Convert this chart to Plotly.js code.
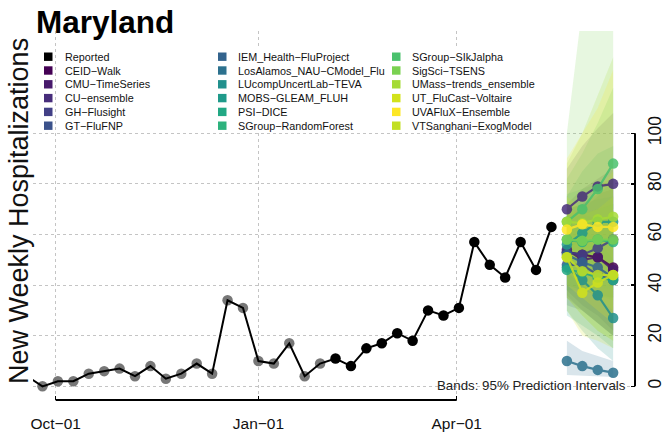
<!DOCTYPE html>
<html>
<head>
<meta charset="utf-8">
<script src="https://cdn.plot.ly/plotly-3.0.1.min.js"></script>
<style>html,body{margin:0;padding:0;background:#fff;}#chart{width:663px;height:435px;}</style>
</head>
<body>
<div id="chart"></div>
<script>
// ---------------- data ----------------
const reportedDates = ['2021-09-18','2021-09-25','2021-10-02','2021-10-09','2021-10-16','2021-10-23','2021-10-30',
  '2021-11-06','2021-11-13','2021-11-20','2021-11-27','2021-12-04','2021-12-11','2021-12-18','2021-12-25',
  '2022-01-01','2022-01-08','2022-01-15','2022-01-22','2022-01-29','2022-02-05','2022-02-12','2022-02-19',
  '2022-02-26','2022-03-05','2022-03-12','2022-03-19','2022-03-26','2022-04-02','2022-04-09','2022-04-16',
  '2022-04-23','2022-04-30','2022-05-07','2022-05-14'];
const reportedValues = [4,0,2,2,5,6,7,4,8,3,5,9,5,34,31,10,9,17,4,9,11,8,15,17,21,18,30,28,31,57,48,43,57,46,63];
const olderCount = 20; // points up to 2022-01-29 drawn in grey

const forecastDates = ['2022-05-21','2022-05-28','2022-06-04','2022-06-11'];
const modelNames = ['CEID−Walk','CMU−TimeSeries','CU−ensemble','GH−Flusight','GT−FluFNP',
  'IEM_Health−FluProject','LosAlamos_NAU−CModel_Flu','LUcompUncertLab−TEVA','MOBS−GLEAM_FLUH','PSI−DICE',
  'SGroup−RandomForest','SGroup−SIkJalpha','SigSci−TSENS','UMass−trends_ensemble','UT_FluCast−Voltaire',
  'UVAFluX−Ensemble','VTSanghani−ExogModel'];
const modelColors = ['#440154','#481a6c','#472d7b','#424086','#3b528b','#33638d','#2c718e','#21908d',
  '#1f9a8a','#22a884','#2db27d','#4ac16d','#7ad151','#a5db36','#d2e21b','#fde725','#c2df23'];
const medianValues = [
  [53,52,51,47],   // CEID
  [54,50,51,46],   // CMU
  [70,75,79,80],   // CU
  [53,52,54.6,58], // GH
  [48,48,44,42],   // GT
  [52,49,47,43],   // IEM
  [10,8,6.5,5.4],  // LosAlamos
  [47,42,36,27],   // LUcomp
  [56,60.5,65,65], // MOBS
  [46,45,43,42],   // PSI
  [58,57,58,57],   // SGroup-RF
  [65,70,78,88],   // SIkJalpha
  [58,57.5,58,58], // SigSci
  [65,64.5,66,67], // UMass
  [51,37,41,44],   // UT
  [62,64,63,63],   // UVA
  [51,45.5,44,44]  // VT
];
const lowerValues = [
  [35,30,25,20],[38,32,28,22],[55,57,58,57],[40,38,36,35],[32,30,25,20],
  [36,30,25,20],[4.5,4.3,4,3.7],[30,22,15,10],[38,38,40,38],[28,24,20,15],
  [40,38,36,34],[50,52,55,60],[35,28,22,18],[45,40,35,30],[30,20,18,15],
  [40,35,30,25],[35,28,22,18]
];
const upperValues = [
  [72,78,82,86],[70,72,76,78],[86,95,102,108],[68,70,75,82],[65,68,66,67],
  [70,72,74,75],[18,14,12,10],[65,62,58,50],[75,85,92,95],[65,68,70,72],
  [76,78,80,82],[82,92,104,118],[100,150,155,160],[88,100,115,130],[75,70,78,85],
  [90,100,110,125],[70,68,70,75]
];
const xTickVals = ['2021-10-01','2022-01-01','2022-04-01'];
const xTickText = ['Oct−01','Jan−01','Apr−01'];
const yTickVals = [0,20,40,60,80,100];

// ---------------- drawing ----------------
const FONT = 'Liberation Sans, Arial, Helvetica, sans-serif';
function rgba(hex, a){
  const n = parseInt(hex.slice(1),16);
  return 'rgba('+((n>>16)&255)+','+((n>>8)&255)+','+(n&255)+','+a+')';
}
const traces = [];
// prediction bands
modelNames.forEach((name,i)=>{
  traces.push({
    x: forecastDates.concat(forecastDates.slice().reverse()),
    y: upperValues[i].concat(lowerValues[i].slice().reverse()),
    type:'scatter', mode:'lines', fill:'toself',
    fillcolor: rgba(modelColors[i], 0.18), line:{width:0},
    hoverinfo:'skip', showlegend:false
  });
});
// reported: older grey points, line, newer black points
traces.push({x: reportedDates.slice(0,olderCount), y: reportedValues.slice(0,olderCount),
  type:'scatter', mode:'markers', marker:{color:'rgba(95,95,95,0.85)', size:10.5}, showlegend:false});
traces.push({x: reportedDates, y: reportedValues, type:'scatter', mode:'lines',
  line:{color:'#000', width:2}, showlegend:false});
traces.push({x: reportedDates.slice(olderCount), y: reportedValues.slice(olderCount),
  type:'scatter', mode:'markers', marker:{color:'#000', size:10.5}, showlegend:false});
// model medians
modelNames.forEach((name,i)=>{
  traces.push({x: forecastDates, y: medianValues[i], type:'scatter', mode:'lines+markers',
    name:name, line:{color:modelColors[i], width:2.2}, marker:{color:modelColors[i], size:10.5},
    opacity:0.85, showlegend:false});
});

// plot area: x 33..635, y 31..400
const L=33, R=635, T=31, B=400;
const px = v => (v-L)/(R-L);
const py = v => (B-v)/(B-T);

const shapes = [
  {type:'line', xref:'x', yref:'paper', x0:xTickVals[0], x1:xTickVals[2], y0:0, y1:0, line:{color:'#000', width:2}},
  {type:'line', xref:'paper', yref:'y', x0:1, x1:1, y0:yTickVals[0], y1:yTickVals[yTickVals.length-1], line:{color:'#000', width:2}},
  {type:'rect', xref:'paper', yref:'paper', x0:px(57), x1:px(540), y0:py(131), y1:py(48), fillcolor:'#fff', line:{width:0}, layer:'above'}
];
const annotations = [];
const legendNames = ['Reported'].concat(modelNames);
const legendColors = ['#000'].concat(modelColors);
legendNames.forEach((nm,i)=>{
  const c = Math.floor(i/6), r = i%6;
  const cy = 56.7 + r*13.8;
  const sx = 44 + c*174;
  shapes.push({type:'rect', xref:'paper', yref:'paper', x0:px(sx), x1:px(sx+8.5), y0:py(cy+4.2), y1:py(cy-4.2),
    fillcolor:legendColors[i], line:{width:0}, layer:'above'});
  annotations.push({xref:'paper', yref:'paper', x:px(62.5 + c*173.5), y:py(cy), xanchor:'left', yanchor:'middle',
    text:nm, showarrow:false, font:{family:FONT, size:10.8, color:'#111'}});
});
annotations.push({xref:'paper', yref:'paper', x:px(19), y:py(211), textangle:-90, xanchor:'center', yanchor:'middle',
  text:'New Weekly Hospitalizations', showarrow:false, font:{family:FONT, size:27, color:'#111'}});
annotations.push({xref:'paper', yref:'paper', x:px(628), y:py(385), xanchor:'right', yanchor:'middle',
  text:'Bands: 95% Prediction Intervals', showarrow:false, font:{family:FONT, size:13.3, color:'#222'}});

const layout = {
  width:663, height:435,
  margin:{l:L, r:663-R, t:T, b:435-B, pad:0},
  paper_bgcolor:'#fff', plot_bgcolor:'#fff',
  showlegend:false,
  title:{text:'<b>Maryland</b>', xref:'container', yref:'container', x:36/663, xanchor:'left',
    y:1-22/435, yanchor:'middle', font:{family:FONT, size:31.5, color:'#000'}},
  xaxis:{type:'date', range:['2021-09-20 16:48','2022-06-20 22:00'], tickvals:xTickVals, ticktext:xTickText,
    ticks:'inside', ticklen:4, tickwidth:1.5, tickcolor:'#000', showgrid:true, gridcolor:'#c4c4c4',
    griddash:'dot', gridwidth:1, showline:false, zeroline:false,
    tickfont:{family:FONT, size:15.5, color:'#111'}, ticklabelstandoff:12},
  yaxis:{range:[-5.4,140.4], side:'right', tickvals:yTickVals, ticks:'inside', ticklen:4, tickwidth:1.5,
    tickcolor:'#000', tickangle:-90, showgrid:true, gridcolor:'#c4c4c4', griddash:'dot', gridwidth:1,
    showline:false, zeroline:false, tickfont:{family:FONT, size:17.5, color:'#111'}, ticklabelstandoff:7},
  shapes:shapes, annotations:annotations
};
Plotly.newPlot('chart', traces, layout, {staticPlot:true, displayModeBar:false});
</script>
</body>
</html>
